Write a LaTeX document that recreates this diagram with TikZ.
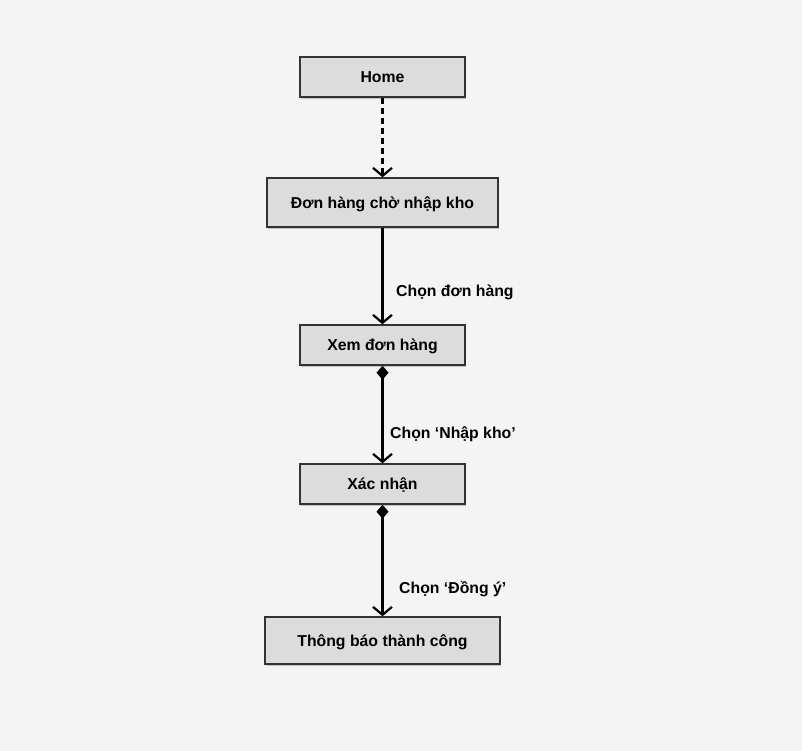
\documentclass[tikz,border=0pt]{standalone}
\usepackage{fontspec}
\setmainfont{Liberation Sans}
\usetikzlibrary{arrows.meta,shadows}
\definecolor{bgcol}{HTML}{F4F4F4}
\definecolor{boxfill}{HTML}{DCDCDC}
\definecolor{boxline}{HTML}{333333}
\begin{document}
\begin{tikzpicture}[x=1pt,y=-1pt,
  screen/.style={draw=boxline, line width=1.4pt, fill=boxfill, inner sep=0pt,
    text depth=-1pt,
    font=\fontsize{15.8}{18}\selectfont\bfseries,
    drop shadow={shadow xshift=1.2pt, shadow yshift=-2.2pt, opacity=0.35, fill=black!60}},
  flow/.style={line width=2.4pt, -{Straight Barb[length=8pt,width=19pt,line width=2.2pt]}},
  choice/.style={flow, {Diamond[length=14pt,width=12pt]}-{Straight Barb[length=8pt,width=19pt,line width=2.2pt]}},
  lbl/.style={font=\fontsize{15.8}{18}\selectfont\bfseries, anchor=west, inner sep=0pt}]
  \fill[bgcol] (0,0) rectangle (802,751);
  \useasboundingbox (0,0) rectangle (802,751);

  \node[screen, minimum width=165pt, minimum height=40pt] (home) at (382.5,77) {Home};
  \node[screen, minimum width=231pt, minimum height=49pt] (pending) at (382.5,202.5) {Đơn hàng chờ nhập kho};
  \node[screen, minimum width=165pt, minimum height=40pt] (view) at (382.5,345) {Xem đơn hàng};
  \node[screen, minimum width=165pt, minimum height=40pt] (confirm) at (382.5,484) {Xác nhận};
  \node[screen, minimum width=235pt, minimum height=47pt] (done) at (382.5,640.5) {Thông báo thành công};

  \draw[flow, dashed, dash pattern=on 6pt off 4pt] (home.south) -- (pending.north);
  \draw[flow] (pending.south) -- (view.north);
  \draw[choice] (view.south) -- (confirm.north);
  \draw[choice] (confirm.south) -- (done.north);

  \node[lbl] (l1) at (396,292) {Chọn đơn hàng};
  \node[lbl] (l2) at (390,434) {Chọn ‘Nhập kho’};
  \node[lbl] (l3) at (399,589) {Chọn ‘Đồng ý’};
\end{tikzpicture}
\end{document}
